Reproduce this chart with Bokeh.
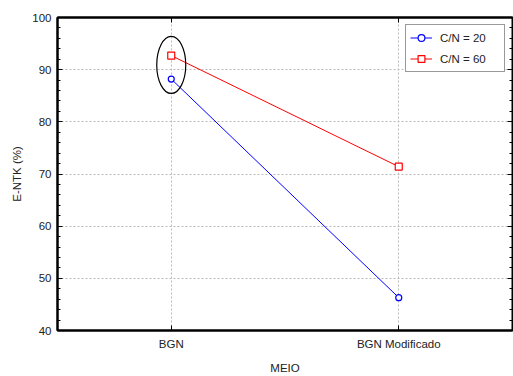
from bokeh.plotting import figure
from bokeh.models import (FactorRange, Range1d, LinearAxis, CategoricalAxis, Legend,
                          LegendItem, SingleIntervalTicker, ColumnDataSource,
                          CustomJSTickFormatter)
from bokeh.embed import file_html
from bokeh.resources import INLINE

meio = ["BGN", "BGN Modificado"]
cn20 = [88.2, 46.3]
cn60 = [92.7, 71.4]
series_names = ["C/N = 20", "C/N = 60"]

FONT = "Liberation Sans"

p = figure(width=513, height=376,
           x_range=FactorRange(factors=meio, range_padding=0),
           y_range=Range1d(40, 100),
           output_backend="svg", toolbar_location=None,
           min_border_left=57, min_border_right=1, min_border_top=17, min_border_bottom=43)
p.outline_line_color = "black"
p.outline_line_width = 2

# grid
for g in (p.xgrid, p.ygrid):
    g.grid_line_color = "#bbbbbb"
    g.grid_line_dash = "2 2"
    g.grid_line_width = 1

p.yaxis.ticker = SingleIntervalTicker(interval=10, num_minor_ticks=5)

for ax in (p.xaxis, p.yaxis):
    ax.axis_line_color = "black"
    ax.axis_line_width = 2
    ax.major_tick_in = 5
    ax.major_tick_out = 0
    ax.minor_tick_in = 3
    ax.minor_tick_out = 0
    ax.major_tick_line_color = "black"
    ax.minor_tick_line_color = "black"
    ax.major_label_text_font = FONT
    ax.major_label_text_font_size = "11.5px"
    ax.major_label_text_color = "#222222"
    ax.axis_label_text_font = FONT
    ax.axis_label_text_font_size = "11.5px"
    ax.axis_label_text_font_style = "normal"
    ax.axis_label_text_color = "#222222"

p.yaxis.axis_label = "E-NTK (%)"
p.yaxis.major_label_standoff = 6
p.yaxis.axis_label_standoff = 6
p.xaxis.axis_label = "MEIO"
p.xaxis.major_label_standoff = 7
p.xaxis.axis_label_standoff = 9

rax = LinearAxis(ticker=SingleIntervalTicker(interval=10, num_minor_ticks=5),
                 major_tick_in=5, major_tick_out=0, minor_tick_in=3, minor_tick_out=0,
                 formatter=CustomJSTickFormatter(code="return ''"),
                 major_label_standoff=0, axis_label_standoff=0,
                 axis_line_color="black", axis_line_width=1)
p.add_layout(rax, "right")
tax = CategoricalAxis(major_tick_in=5, major_tick_out=0,
                      formatter=CustomJSTickFormatter(code="return ''"),
                      major_label_standoff=0, axis_label_standoff=0,
                      axis_line_color="black", axis_line_width=2)
p.add_layout(tax, "above")

src = ColumnDataSource(dict(meio=meio, cn20=cn20, cn60=cn60))

l1 = p.line("meio", "cn20", source=src, line_color="blue", line_width=1)
m1 = p.scatter("meio", "cn20", source=src, marker="circle", size=6,
               line_color="blue", fill_color="white", line_width=1.2)
l2 = p.line("meio", "cn60", source=src, line_color="red", line_width=1)
m2 = p.scatter("meio", "cn60", source=src, marker="square", size=7,
               line_color="red", fill_color="white", line_width=1.2)

# ellipse highlighting BGN
p.ellipse(x=[meio[0]], y=[90.9], width=29, height=57,
          width_units="screen", height_units="screen",
          fill_color=None, line_color="black", line_width=1.2)

legend = Legend(items=[LegendItem(label=series_names[0], renderers=[l1, m1]),
                       LegendItem(label=series_names[1], renderers=[l2, m2])],
                location="top_right")
legend.label_text_font = FONT
legend.label_text_font_size = "11.5px"
legend.label_text_color = "#222222"
legend.border_line_color = "#333333"
legend.border_line_width = 1.5
legend.margin = 7
legend.padding = 4
legend.spacing = 4
legend.glyph_width = 22
legend.glyph_height = 17
legend.label_standoff = 8
legend.label_width = 60
p.add_layout(legend)

open("out.html", "w").write(file_html(p, INLINE))
